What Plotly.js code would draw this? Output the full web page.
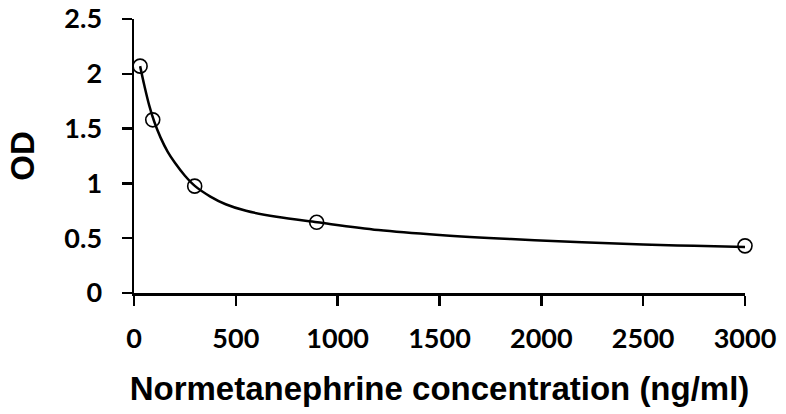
<!DOCTYPE html>
<html>
<head>
<meta charset="utf-8">
<script src="https://cdn.plot.ly/plotly-3.0.1.min.js"></script>
<style>html,body{margin:0;padding:0;background:#fff;}#chart{width:786px;height:414px;}</style>
</head>
<body>
<div id="chart"></div>
<script>
// Standard points (concentration ng/ml, OD)
var pointX = [30, 92, 298, 897, 3000];
var pointY = [2.07, 1.58, 0.975, 0.645, 0.43];

// Fitted curve
var curveX = [30, 50, 75, 100, 130, 165, 200, 250, 300, 375, 450, 550, 700, 900, 1200, 1500, 1850, 2200, 2500, 2750, 3000];
var curveY = [2.07, 1.90, 1.71, 1.56, 1.42, 1.29, 1.19, 1.07, 0.975, 0.88, 0.81, 0.75, 0.695, 0.645, 0.575, 0.53, 0.492, 0.462, 0.442, 0.43, 0.42];

var xTicks = [0, 500, 1000, 1500, 2000, 2500, 3000];
var yTicks = [0, 0.5, 1, 1.5, 2, 2.5];
var xTitle = 'Normetanephrine concentration (ng/ml)';
var yTitle = 'OD';

var tickFont = {family: 'Lato, sans-serif', size: 27, color: '#000', weight: 'bold'};
var titleFont = {family: 'Liberation Sans, Arial, sans-serif', size: 33, color: '#000', weight: 'bold'};

var traces = [
  {x: curveX, y: curveY, mode: 'lines', line: {color: '#000', width: 2.5, shape: 'spline', smoothing: 1}, hoverinfo: 'skip', cliponaxis: false},
  {x: pointX, y: pointY, mode: 'markers', marker: {symbol: 'circle-open', size: 14, color: '#000', line: {width: 1.6, color: '#000'}}, cliponaxis: false}
];

var layout = {
  width: 786, height: 414,
  margin: {l: 134, r: 41, t: 19, b: 121},
  paper_bgcolor: '#fff', plot_bgcolor: '#fff',
  showlegend: false,
  xaxis: {
    range: [0, 3000], tickvals: xTicks, ticktext: xTicks.map(String),
    showgrid: false, zeroline: false, showline: true, linecolor: '#000', linewidth: 2.5,
    ticks: 'outside', ticklen: 10, tickwidth: 2.5, tickcolor: '#000',
    tickfont: tickFont, ticklabelstandoff: 10,
    title: {text: xTitle, font: titleFont, standoff: 24}
  },
  yaxis: {
    range: [0, 2.5], tickvals: yTicks, ticktext: yTicks.map(String),
    showgrid: false, zeroline: false, showline: true, linecolor: '#000', linewidth: 2.5,
    ticks: 'outside', ticklen: 10, tickwidth: 2.5, tickcolor: '#000',
    tickfont: tickFont, ticklabelstandoff: 14,
    title: {text: yTitle, font: titleFont, standoff: 20}
  }
};

Plotly.newPlot('chart', traces, layout, {staticPlot: true, displayModeBar: false});
</script>
</body>
</html>
